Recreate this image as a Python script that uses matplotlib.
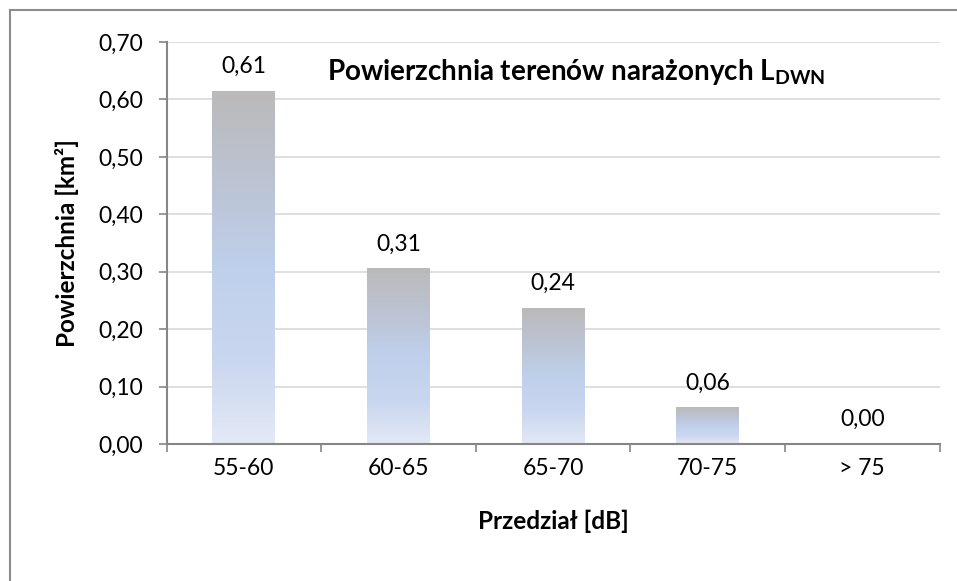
import numpy as np
import matplotlib.pyplot as plt
from matplotlib.colors import LinearSegmentedColormap
from matplotlib.lines import Line2D

plt.rcParams['font.family'] = ['Lato', 'DejaVu Sans']
plt.rcParams['mathtext.fontset'] = 'custom'
plt.rcParams['mathtext.rm'] = 'Lato'
plt.rcParams['mathtext.bf'] = 'Lato:bold'

# dane
kategorie = ['55-60', '60-65', '65-70', '70-75', '> 75']
wartosci = [0.614, 0.305, 0.236, 0.063, 0.0]
etykiety = ['0,61', '0,31', '0,24', '0,06', '0,00']
yticki = [0.0, 0.1, 0.2, 0.3, 0.4, 0.5, 0.6, 0.7]

W, H = 957, 581
fig = plt.figure(figsize=(W / 100, H / 100), dpi=100)
ax = fig.add_axes([166.5 / W, 1 - 444 / H, (939.5 - 166.5) / W, (444 - 42) / H])

# ramka wykresu (tylko lewa i gorna krawedz widoczne)
fig.add_artist(Line2D([9.5 / W, 9.5 / W], [0, 1 - 10 / H], color='#8c8c8c', lw=1.5))
fig.add_artist(Line2D([9.5 / W, 1], [1 - 10 / H, 1 - 10 / H], color='#8c8c8c', lw=1.5))

gradient = LinearSegmentedColormap.from_list(
    'excel', ['#e3e9f6', '#c9d6ef', '#bfd0ec', '#bcc3d2', '#bababa'])
grad = np.linspace(0, 1, 256).reshape(-1, 1)

fs = 16.5
x = np.arange(len(kategorie))
szer = 0.405
for xi, v, lab in zip(x, wartosci, etykiety):
    if v > 0:
        ax.imshow(grad, cmap=gradient, origin='lower', aspect='auto',
                  extent=[xi - szer / 2, xi + szer / 2, 0, v], zorder=2)
    ax.text(xi, v + 0.025, lab, ha='center', va='bottom', fontsize=fs, zorder=3)

ax.set_xlim(-0.5, len(kategorie) - 0.5)
ax.set_ylim(0, 0.7)

ax.set_yticks(yticki)
ax.set_yticklabels([('%.2f' % t).replace('.', ',') for t in yticki], fontsize=fs)
ax.yaxis.grid(True, color='#d9d9d9', lw=1.2, zorder=0)
ax.set_axisbelow(True)

ax.set_xticks(x)
ax.set_xticklabels(kategorie, fontsize=fs)
ax.set_xticks(np.arange(-0.5, len(kategorie)), minor=True)
ax.tick_params(axis='x', which='major', length=0, pad=10)
ax.tick_params(axis='x', which='minor', length=6, color='#868686', width=1.2)
ax.tick_params(axis='y', length=6, color='#868686', width=1.2, pad=11)

for s in ['top', 'right']:
    ax.spines[s].set_visible(False)
for s in ['left', 'bottom']:
    ax.spines[s].set_color('#868686')
    ax.spines[s].set_linewidth(1.5)

ax.set_xlabel('Przedział [dB]', fontsize=17.5, fontweight='bold', labelpad=22)
ax.set_ylabel('Powierzchnia [km²]', fontsize=17.5, fontweight='bold', labelpad=14)

ax.text(0.53, 0.925, 'Powierzchnia terenów narażonych L$_{\\mathbf{DWN}}$',
        transform=ax.transAxes, ha='center', va='center',
        fontsize=20, fontweight='bold')

fig.savefig('out.png', dpi=100, facecolor='white')
